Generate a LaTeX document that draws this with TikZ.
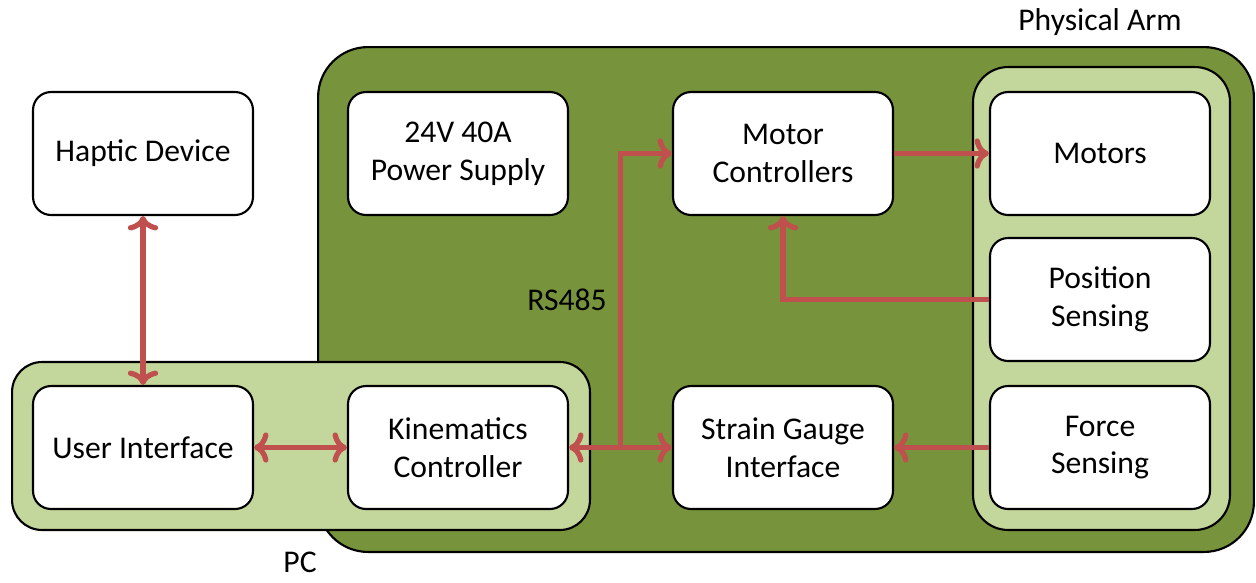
\documentclass[tikz,border=0pt]{standalone}
\usepackage{fontspec}
\setmainfont{Carlito}
\usetikzlibrary{arrows.meta,calc,positioning}
\definecolor{armgreen}{HTML}{77933C}
\definecolor{groupgreen}{HTML}{C3D69B}
\definecolor{linkred}{HTML}{C0504D}

\begin{document}
\begin{tikzpicture}[
  x=0.02cm,y=-0.02cm,
  block/.style={draw=black,line width=1.2pt,fill=white,rounded corners=0.36cm,
    minimum width=4.4cm,minimum height=2.46cm,align=center,font=\fontsize{18}{21.5}\selectfont},
  area/.style={draw=black,line width=1.2pt,inner sep=0pt},
  label/.style={inner sep=0pt,font=\fontsize{18}{21.5}\selectfont},
  link/.style={linkred,line width=3pt,
    arrows={Straight Barb[length=4mm,width=5.6mm]-Straight Barb[length=4mm,width=5.6mm]}}
]
\useasboundingbox (0,0) rectangle (1256,582);
% containers
\node[area,fill=armgreen,rounded corners=1cm,minimum width=18.72cm,minimum height=10.1cm]
  (arm) at (786,299.5) {};
\node[area,fill=groupgreen,rounded corners=0.7cm,minimum width=5.14cm,minimum height=9.26cm]
  (sensors) at (1101.5,298.5) {};
\node[area,fill=groupgreen,rounded corners=0.6cm,minimum width=11.56cm,minimum height=3.36cm]
  (pc) at (301,446) {};
\node[label] (armlabel) at (1100,22) {Physical Arm};
\node[label] (pclabel) at (300,562) {PC};
\node[label] (buslabel) at (567,300) {RS485};
% blocks
\node[block] (haptic) at (143,153.5) {Haptic Device};
\node[block] (ui) at (143,447.5) {User Interface};
\node[block] (kin) at (458,447.5) {Kinematics\\Controller};
\node[block] (power) at (458,153.5) {24V 40A\\Power Supply};
\node[block] (motor) at (783,153.5) {Motor\\Controllers};
\node[block] (strain) at (783,447.5) {Strain Gauge\\Interface};
\node[block] (motors) at (1100,153.5) {Motors};
\node[block] (pos) at (1100,299.5) {Position\\Sensing};
\node[block] (force) at (1100,447.5) {Force\\Sensing};
% links
\draw[link,<->] (haptic) -- (ui);
\draw[link,<->] (ui) -- (kin);
\draw[link,<->] (kin) -- (strain);
\draw[link,->] ($(kin.east)!0.5!(strain.west)$) |- (motor.west);
\draw[link,->] (motor) -- (motors);
\draw[link,->] (pos.west) -| (motor.south);
\draw[link,->] (force) -- (strain);
\end{tikzpicture}
\end{document}
